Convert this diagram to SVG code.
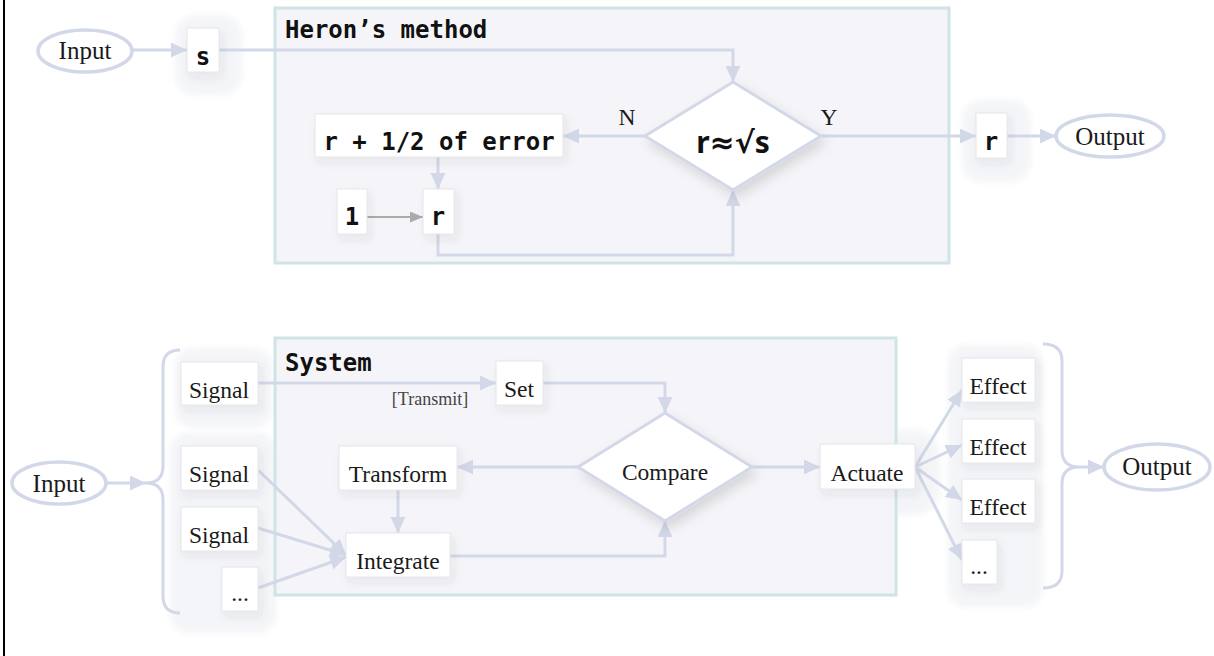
<svg xmlns="http://www.w3.org/2000/svg" width="1214" height="656" viewBox="0 0 1214 656">
  <style>
    .cluster { fill: #f5f5f9; stroke: #cfe4e6; stroke-width: 3; }
    .halo { fill: #f4f5f8; filter: url(#soft); }
    .box { fill: #ffffff; stroke: #e6e6ea; stroke-width: 1; filter: url(#shadow); }
    .dia { fill: #ffffff; stroke: #d3d8e9; stroke-width: 3; filter: url(#dshadow); }
    .term { fill: #ffffff; stroke: #d3d8e9; stroke-width: 3.5; }
    .edge { fill: none; stroke: #d3d8e9; stroke-width: 3; marker-end: url(#arrow); }
    .brace { fill: none; stroke: #d3d8e9; stroke-width: 3; }
    .gray { fill: none; stroke: #aaaaaa; stroke-width: 2; marker-end: url(#garrow); }
    .mono { font-family: "DejaVu Sans Mono", "Liberation Mono", monospace; font-weight: bold; font-size: 24px; fill: #111; }
    .serif { font-family: "Liberation Serif", "DejaVu Serif", serif; font-size: 23.5px; fill: #1a1a1a; }
    .term-label { font-size: 25px; }
    .small { font-family: "Liberation Serif", "DejaVu Serif", serif; font-size: 18px; fill: #444; }
    .big { font-family: "Noto Sans", "DejaVu Sans", sans-serif; font-weight: bold; font-size: 30px; fill: #111; }
    .mid { text-anchor: middle; }
  </style>
  <defs>
    <marker id="arrow" markerUnits="userSpaceOnUse" markerWidth="17" markerHeight="16" refX="16" refY="7.5" orient="auto">
      <path d="M0,0 L16,7.5 L0,15 z" fill="#d3d8e9"/>
    </marker>
    <marker id="garrow" markerUnits="userSpaceOnUse" markerWidth="14" markerHeight="12" refX="13" refY="5.5" orient="auto">
      <path d="M0,0 L13,5.5 L0,11 z" fill="#aaaaaa"/>
    </marker>
    <filter id="shadow" x="-30%" y="-30%" width="160%" height="170%">
      <feDropShadow dx="3" dy="5" stdDeviation="4" flood-color="#30304a" flood-opacity="0.08"/>
    </filter>
    <filter id="dshadow" x="-20%" y="-20%" width="150%" height="150%">
      <feDropShadow dx="4" dy="6" stdDeviation="6" flood-color="#000" flood-opacity="0.13"/>
    </filter>
    <filter id="soft" x="-20%" y="-20%" width="140%" height="140%">
      <feGaussianBlur stdDeviation="3"/>
    </filter>
  </defs>

  <!-- page edge -->
  <rect x="3" y="0" width="2" height="656" fill="#000"/>

  <!-- soft group backgrounds -->
  <g id="halos">
    <rect class="halo" x="175" y="15" width="67" height="80" rx="20"/>
    <rect class="halo" x="962" y="100" width="69" height="82" rx="20"/>
    <rect class="halo" x="175" y="348" width="97" height="80" rx="18"/>
    <rect class="halo" x="170" y="433" width="106" height="200" rx="18"/>
    <rect class="halo" x="948" y="345" width="95" height="262" rx="18"/>
    <rect class="halo" x="800" y="430" width="140" height="85" rx="25"/>
  </g>

  <!-- Heron's method -->
  <g id="heron">
    <rect class="cluster" x="275" y="8" width="674" height="255"/>
    <text class="mono" x="285" y="38">Heron’s method</text>
  </g>

  <!-- System -->
  <g id="system">
    <rect class="cluster" x="275" y="338" width="621" height="257"/>
    <text class="mono" x="285" y="371">System</text>
  </g>

  <!-- connectors -->
  <g id="connectors">
    <path class="edge" d="M132,50 H187"/>
    <path class="edge" d="M219,50 H733 V82"/>
    <path class="edge" d="M645,136 H563"/>
    <path class="edge" d="M438,157 V189"/>
    <path class="gray" d="M367,217 H423"/>
    <path class="edge" d="M438,234 V255 H733 V190"/>
    <path class="edge" d="M821,136 H976"/>
    <path class="edge" d="M1007,136 H1056"/>

    <path class="edge" d="M106,483 H146"/>
    <path class="edge" d="M1079,467 H1104"/>
    <path class="edge" d="M258,383 H496"/>
    <path class="edge" d="M543,383 H665 V413"/>
    <path class="edge" d="M578,467 H457"/>
    <path class="edge" d="M398,490 V533"/>
    <path class="edge" d="M258,470 L346,555"/>
    <path class="edge" d="M258,528 L346,555"/>
    <path class="edge" d="M258,588 L346,557"/>
    <path class="edge" d="M450,556 H665 V521"/>
    <path class="edge" d="M752,467 H820"/>
    <path class="edge" d="M915,467 L962,390"/>
    <path class="edge" d="M915,467 L962,445"/>
    <path class="edge" d="M915,467 L962,500"/>
    <path class="edge" d="M915,467 L962,560"/>

    <path class="brace" d="M180,350 Q163,350 163,367 L163,466 Q163,483 146,483 Q163,483 163,500 L163,596 Q163,613 180,613"/>
    <path class="brace" d="M1043,344 Q1062,344 1062,361 L1062,450 Q1062,467 1079,467 Q1062,467 1062,484 L1062,571 Q1062,588 1043,588"/>
  </g>

  <!-- top flow nodes -->
  <g id="input-top">
    <ellipse class="term" cx="85" cy="51" rx="47" ry="21"/>
    <text class="serif term-label mid" x="85" y="59">Input</text>
  </g>
  <g id="s">
    <rect class="box" x="187" y="28" width="32" height="44"/>
    <text class="mono mid" x="203" y="65">s</text>
  </g>
  <g id="test">
    <polygon class="dia" points="733,82 821,136 733,190 645,136"/>
    <text class="big mid" x="733" y="153">r≈√s</text>
  </g>
  <g id="label-n"><text class="serif mid" x="627" y="125">N</text></g>
  <g id="label-y"><text class="serif mid" x="829" y="125">Y</text></g>
  <g id="update">
    <rect class="box" x="315" y="114" width="248" height="43"/>
    <text class="mono mid" x="439" y="150">r + 1/2 of error</text>
  </g>
  <g id="one">
    <rect class="box" x="337" y="189" width="30" height="45"/>
    <text class="mono mid" x="352" y="225">1</text>
  </g>
  <g id="r">
    <rect class="box" x="423" y="189" width="31" height="45"/>
    <text class="mono mid" x="438" y="225">r</text>
  </g>
  <g id="r-out">
    <rect class="box" x="976" y="113" width="31" height="45"/>
    <text class="mono mid" x="991" y="150">r</text>
  </g>
  <g id="output-top">
    <ellipse class="term" cx="1110" cy="136" rx="54" ry="21"/>
    <text class="serif term-label mid" x="1110" y="145">Output</text>
  </g>

  <!-- system flow nodes -->
  <g id="input-bottom">
    <ellipse class="term" cx="59" cy="483" rx="47" ry="21"/>
    <text class="serif term-label mid" x="59" y="492">Input</text>
  </g>
  <g id="signal-1">
    <rect class="box" x="181" y="362" width="77" height="43"/>
    <text class="serif mid" x="219" y="398">Signal</text>
  </g>
  <g id="signal-2">
    <rect class="box" x="181" y="446" width="77" height="44"/>
    <text class="serif mid" x="219" y="482">Signal</text>
  </g>
  <g id="signal-3">
    <rect class="box" x="181" y="507" width="77" height="44"/>
    <text class="serif mid" x="219" y="543">Signal</text>
  </g>
  <g id="signal-more">
    <rect class="box" x="222" y="567" width="36" height="44"/>
    <text class="serif mid" x="240" y="601">...</text>
  </g>
  <g id="transmit-label"><text class="small mid" x="430" y="405">[Transmit]</text></g>
  <g id="set">
    <rect class="box" x="496" y="361" width="47" height="44"/>
    <text class="serif mid" x="519" y="397">Set</text>
  </g>
  <g id="compare">
    <polygon class="dia" points="665,413 752,467 665,521 578,467"/>
    <text class="serif mid" x="665" y="480">Compare</text>
  </g>
  <g id="transform">
    <rect class="box" x="339" y="446" width="118" height="44"/>
    <text class="serif mid" x="398" y="482">Transform</text>
  </g>
  <g id="integrate">
    <rect class="box" x="346" y="533" width="104" height="44"/>
    <text class="serif mid" x="398" y="569">Integrate</text>
  </g>
  <g id="actuate">
    <rect class="box" x="820" y="444" width="95" height="45"/>
    <text class="serif mid" x="867" y="481">Actuate</text>
  </g>
  <g id="effect-1">
    <rect class="box" x="962" y="358" width="73" height="44"/>
    <text class="serif mid" x="998" y="394">Effect</text>
  </g>
  <g id="effect-2">
    <rect class="box" x="962" y="419" width="73" height="44"/>
    <text class="serif mid" x="998" y="455">Effect</text>
  </g>
  <g id="effect-3">
    <rect class="box" x="962" y="479" width="73" height="44"/>
    <text class="serif mid" x="998" y="515">Effect</text>
  </g>
  <g id="effect-more">
    <rect class="box" x="962" y="540" width="35" height="44"/>
    <text class="serif mid" x="979" y="574">...</text>
  </g>
  <g id="output-bottom">
    <ellipse class="term" cx="1157" cy="467" rx="53" ry="23"/>
    <text class="serif term-label mid" x="1157" y="475">Output</text>
  </g>
</svg>
